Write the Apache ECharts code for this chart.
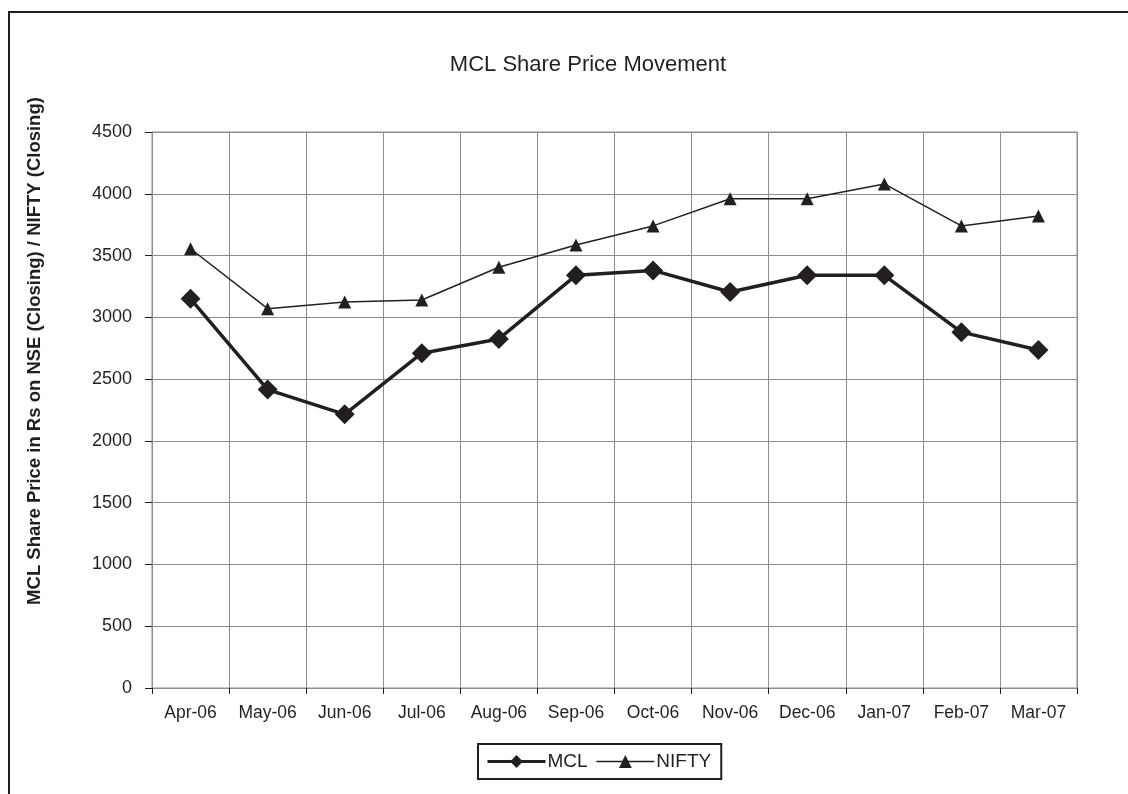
<!DOCTYPE html>
<html>
<head>
<meta charset="utf-8">
<script src="https://cdn.jsdelivr.net/npm/echarts@6/dist/echarts.min.js"></script>
<style>
  html, body { margin: 0; padding: 0; background: #fff; }
  #frame { position: absolute; left: 8px; top: 11px; width: 1140px; height: 800px;
           border-left: 2px solid #231f20; border-top: 2px solid #231f20; }
  #chart { position: absolute; left: 0; top: 0; width: 1128px; height: 794px; }
</style>
</head>
<body>
<div id="frame"></div>
<div id="chart"></div>
<script>
// months on the x axis
const months = ['Apr-06', 'May-06', 'Jun-06', 'Jul-06', 'Aug-06', 'Sep-06',
                'Oct-06', 'Nov-06', 'Dec-06', 'Jan-07', 'Feb-07', 'Mar-07'];
// closing values
const mclValues = [3150, 2415, 2215, 2710, 2825, 3340, 3380, 3205, 3340, 3340, 2880, 2735];
const niftyValues = [3555, 3070, 3125, 3140, 3405, 3585, 3740, 3960, 3960, 4080, 3740, 3820];

const ink = '#231f20';
const gridGray = '#8c8c8c';
const font = 'Liberation Sans, Arial, sans-serif';

const option = {
    animation: false,
    textStyle: { fontFamily: font },
    title: {
        text: 'MCL Share Price Movement',
        left: 583,
        top: 49,
        textAlign: 'center',
        textStyle: { fontSize: 22, fontWeight: 'normal', color: ink, fontFamily: font }
    },
    graphic: [{
        type: 'text',
        x: 35,
        y: 351,
        rotation: Math.PI / 2,
        style: {
            text: 'MCL Share Price in Rs on NSE (Closing) / NIFTY (Closing)',
            font: 'bold 18.5px ' + font,
            fill: ink,
            textAlign: 'center',
            textVerticalAlign: 'middle'
        }
    }],
    legend: {
        left: 478,
        top: 744,
        itemGap: 8,
        itemWidth: 58,
        itemHeight: 16,
        padding: [8, 10, 8, 8],
        borderColor: ink,
        borderWidth: 2,
        borderRadius: 0,
        textStyle: { fontSize: 19, color: ink, fontFamily: font, padding: [0, 0, 0, -3] },
        data: [
            { name: 'MCL', lineStyle: { width: 3 } },
            { name: 'NIFTY', lineStyle: { width: 1.5 } }
        ]
    },
    grid: {
        left: 152,
        top: 132,
        width: 925,
        height: 556,
        show: true,
        borderColor: gridGray,
        borderWidth: 1
    },
    xAxis: {
        type: 'category',
        data: months,
        boundaryGap: true,
        axisLine: { lineStyle: { color: gridGray, width: 1 } },
        axisTick: { show: true, length: 6, lineStyle: { color: ink } },
        axisLabel: { fontSize: 17.5, color: ink, margin: 16, interval: 0 },
        splitLine: { show: true, lineStyle: { color: gridGray, width: 1 } }
    },
    yAxis: {
        type: 'value',
        min: 0,
        max: 4500,
        interval: 500,
        axisLine: { show: true, lineStyle: { color: gridGray, width: 1 } },
        axisTick: { show: true, length: 7, lineStyle: { color: ink } },
        axisLabel: {
            fontSize: 18,
            color: ink,
            margin: 20,
            formatter: function (v) { return String(v); }
        },
        splitLine: { show: true, lineStyle: { color: gridGray, width: 1 } }
    },
    series: [{
        name: 'MCL',
        type: 'line',
        data: mclValues,
        symbol: 'diamond',
        symbolSize: 20,
        lineStyle: { color: ink, width: 3.5 },
        itemStyle: { color: ink }
    }, {
        name: 'NIFTY',
        type: 'line',
        data: niftyValues,
        symbol: 'triangle',
        symbolSize: 13,
        lineStyle: { color: ink, width: 1.5 },
        itemStyle: { color: ink }
    }]
};

const chart = echarts.init(document.getElementById('chart'));
chart.setOption(option);
window.addEventListener('resize', function () {
    chart.resize();
});
</script>
</body>
</html>
